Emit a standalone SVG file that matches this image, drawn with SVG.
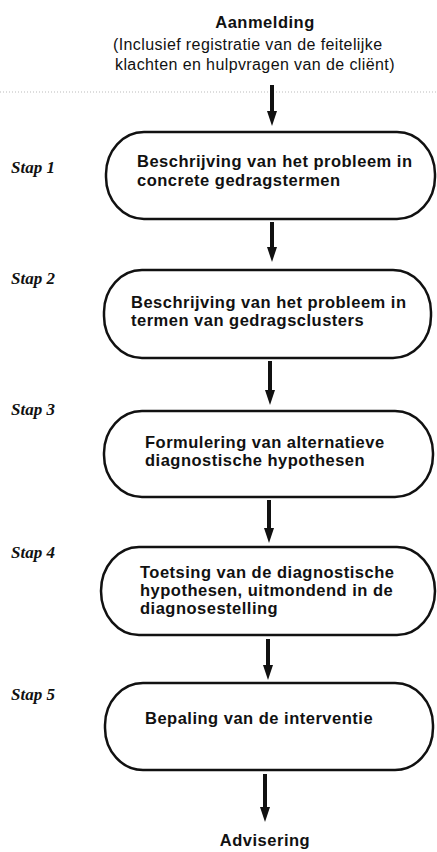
<svg xmlns="http://www.w3.org/2000/svg" width="437" height="852" viewBox="0 0 437 852">
<style>
.box{fill:#fff;stroke:#111;stroke-width:2.5}
.t{font-family:"Liberation Sans",Arial,sans-serif;font-weight:bold;font-size:16.5px;letter-spacing:0.5px;fill:#111}
.r{font-family:"Liberation Sans",Arial,sans-serif;font-size:16px;letter-spacing:0.4px;fill:#111}
.s{font-family:"Liberation Serif","Times New Roman",serif;font-weight:bold;font-style:italic;font-size:17px;fill:#111}
.c{stroke:#111;stroke-width:4;fill:none}
</style>
<defs>
<marker id="ah" viewBox="0 0 15 10" refX="1" refY="5" markerWidth="15" markerHeight="10" markerUnits="userSpaceOnUse" orient="auto">
<path d="M0,0 L15,5 L0,10 Z" fill="#111"/>
</marker>
</defs>
<rect width="437" height="852" fill="#fff"/>
<line x1="0" y1="92" x2="437" y2="92" stroke="#bbb" stroke-width="1" stroke-dasharray="1,2"/>
<g id="aanmelding">
<text class="t" x="265" y="28" text-anchor="middle">Aanmelding</text>
<text class="r" x="113" y="50">(Inclusief registratie van de feitelijke</text>
<text class="r" x="115" y="70">klachten en hulpvragen van de cliënt)</text>
</g>
<g id="stap1">
<text class="s" x="11" y="173">Stap 1</text>
<rect class="box" x="106" y="132" width="329" height="87" rx="38" ry="42"/>
<text class="t" x="137" y="167">Beschrijving van het probleem in</text>
<text class="t" x="137" y="186">concrete gedragstermen</text>
</g>
<g id="stap2">
<text class="s" x="11" y="284">Stap 2</text>
<rect class="box" x="104" y="270" width="327" height="88" rx="38" ry="42"/>
<text class="t" x="131" y="308">Beschrijving van het probleem in</text>
<text class="t" x="131" y="326">termen van gedragsclusters</text>
</g>
<g id="stap3">
<text class="s" x="11" y="415">Stap 3</text>
<rect class="box" x="104" y="411" width="329" height="86" rx="38" ry="42"/>
<text class="t" x="145" y="448">Formulering van alternatieve</text>
<text class="t" x="145" y="466">diagnostische hypothesen</text>
</g>
<g id="stap4">
<text class="s" x="11" y="558">Stap 4</text>
<rect class="box" x="101" y="547" width="334" height="88" rx="38" ry="44"/>
<text class="t" x="140" y="578">Toetsing van de diagnostische</text>
<text class="t" x="140" y="596">hypothesen, uitmondend in de</text>
<text class="t" x="140" y="614">diagnosestelling</text>
</g>
<g id="stap5">
<text class="s" x="11" y="700">Stap 5</text>
<rect class="box" x="105" y="683" width="328" height="87" rx="38" ry="42"/>
<text class="t" x="145" y="724">Bepaling van de interventie</text>
</g>
<g id="advisering">
<text class="t" x="265" y="846" text-anchor="middle">Advisering</text>
</g>
<g id="connectors">
<line class="c" x1="272" y1="85" x2="272" y2="112" marker-end="url(#ah)"/>
<line class="c" x1="272" y1="222" x2="272" y2="248" marker-end="url(#ah)"/>
<line class="c" x1="270" y1="361" x2="270" y2="391" marker-end="url(#ah)"/>
<line class="c" x1="269" y1="500" x2="269" y2="529" marker-end="url(#ah)"/>
<line class="c" x1="268" y1="639" x2="268" y2="666" marker-end="url(#ah)"/>
<line class="c" x1="265" y1="774" x2="265" y2="808" marker-end="url(#ah)"/>
</g>
</svg>
